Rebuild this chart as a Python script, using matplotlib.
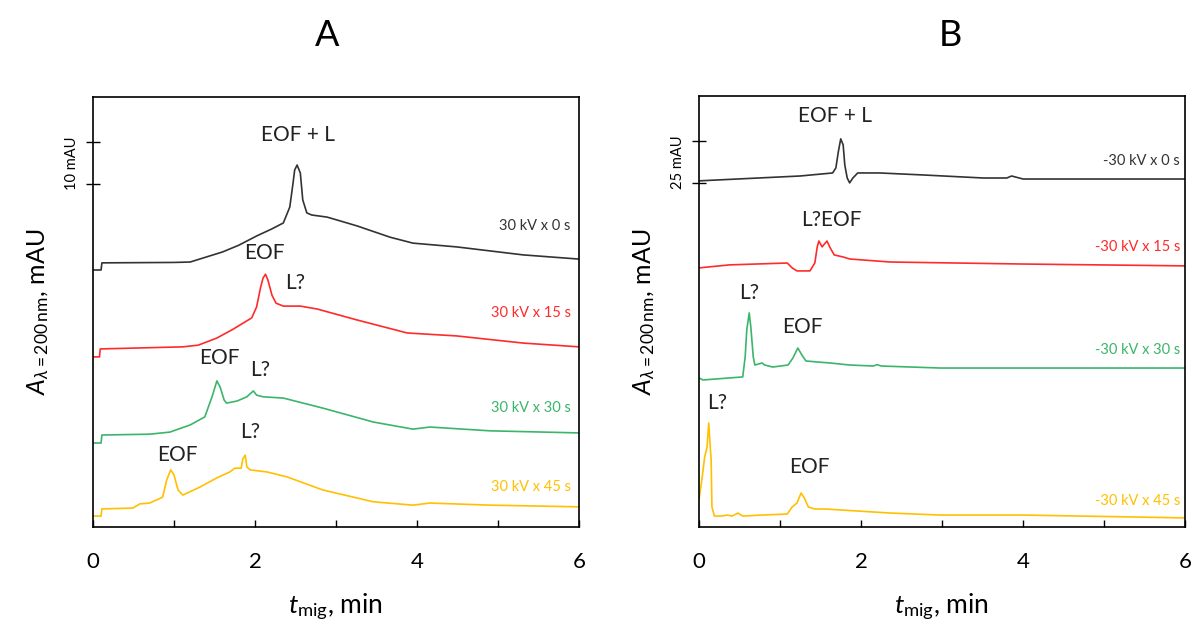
import matplotlib
matplotlib.use('Agg')
import matplotlib.pyplot as plt
import matplotlib.transforms as mtransforms

plt.rcParams['font.family'] = ['Lato', 'DejaVu Sans']
plt.rcParams['mathtext.fontset'] = 'custom'
plt.rcParams['mathtext.rm'] = 'Lato'
plt.rcParams['mathtext.it'] = 'Lato:italic'

# ---- Panel A: +30 kV, absorbance in mAU (traces stacked with offsets) ----
a0_t = [0, 0.10, 0.11, 1.0, 1.2, 1.4, 1.6, 1.8, 2.02, 2.21, 2.35, 2.43, 2.47, 2.49, 2.52,
        2.56, 2.59, 2.64, 2.70, 2.89, 3.05, 3.26, 3.67, 3.95, 4.49, 5.31, 6.0]
a0_y = [61.2, 61.2, 62.9, 63.0, 63.1, 64.3, 65.5, 67.1, 69.3, 71.0, 72.4, 76.2, 81.9, 85.0, 86.2,
        84.3, 77.9, 74.8, 74.3, 73.8, 72.9, 71.7, 69.0, 67.6, 66.7, 64.8, 63.8]

a15_t = [0, 0.08, 0.09, 1.11, 1.3, 1.53, 1.73, 1.96, 2.02, 2.07, 2.10, 2.13, 2.16, 2.21,
         2.26, 2.35, 2.56, 2.77, 3.26, 3.88, 4.49, 5.31, 6.0]
a15_y = [40.5, 40.5, 42.4, 42.9, 43.3, 45.0, 47.1, 49.8, 52.4, 57.1, 59.3, 60.2, 58.8, 55.2,
         53.3, 52.6, 52.6, 51.9, 49.3, 46.2, 45.5, 43.8, 42.9]

a30_t = [0, 0.10, 0.11, 0.70, 0.95, 1.20, 1.38, 1.47, 1.53, 1.57, 1.62, 1.65, 1.78, 1.90,
         1.98, 2.02, 2.10, 2.35, 2.84, 3.46, 3.95, 4.16, 4.90, 6.0]
a30_y = [20.0, 20.0, 21.9, 22.1, 22.6, 24.3, 26.2, 31.0, 34.8, 33.3, 30.2, 29.5, 30.0, 31.0,
         32.4, 31.4, 31.0, 30.7, 28.3, 25.0, 23.3, 23.8, 22.9, 22.4]

a45_t = [0, 0.10, 0.11, 0.49, 0.58, 0.70, 0.86, 0.91, 0.96, 1.00, 1.05, 1.11, 1.32, 1.53,
         1.69, 1.75, 1.83, 1.85, 1.88, 1.90, 1.94, 2.15, 2.40, 2.84, 3.46, 3.95, 4.16, 4.90, 6.0]
a45_y = [2.6, 2.6, 4.3, 4.5, 5.5, 5.7, 7.1, 11.2, 13.6, 12.4, 8.8, 7.6, 9.5, 11.7,
         13.1, 14.0, 14.0, 16.2, 17.1, 14.3, 13.6, 13.1, 11.9, 8.8, 6.0, 5.2, 5.7, 5.2, 4.8]

# ---- Panel B: -30 kV ----
b0_t = [0, 1.25, 1.65, 1.69, 1.72, 1.75, 1.78, 1.80, 1.83, 1.86, 1.90, 1.96, 2.23, 2.77,
        3.51, 3.80, 3.86, 4.0, 6.0]
b0_y = [206.0, 208.9, 210.7, 213.7, 223.2, 231.0, 227.4, 215.5, 207.7, 204.8, 207.7, 210.7,
        210.7, 209.5, 207.7, 207.7, 208.9, 207.1, 207.1]

b15_t = [0, 0.38, 1.09, 1.15, 1.21, 1.37, 1.43, 1.46, 1.48, 1.52, 1.54, 1.58, 1.62, 1.67,
         1.78, 1.86, 2.36, 4.0, 6.0]
b15_y = [154.2, 156.0, 157.1, 154.2, 152.4, 152.4, 157.1, 166.7, 170.2, 166.7, 167.9, 170.2,
         166.1, 161.9, 160.7, 159.5, 157.7, 156.5, 155.4]

b30_t = [0, 0.05, 0.54, 0.57, 0.59, 0.62, 0.64, 0.67, 0.69, 0.78, 0.81, 0.91, 1.10, 1.16,
         1.22, 1.27, 1.32, 1.46, 1.62, 1.86, 2.15, 2.20, 2.25, 2.98, 6.0]
b30_y = [88.7, 87.5, 89.3, 101.2, 117.3, 127.4, 119.0, 101.2, 96.4, 97.6, 96.4, 95.2, 96.4,
         100.6, 106.5, 102.4, 98.8, 98.2, 97.6, 96.4, 95.8, 96.6, 95.8, 94.6, 94.6]

b45_t = [0, 0.04, 0.07, 0.10, 0.12, 0.15, 0.16, 0.19, 0.28, 0.35, 0.41, 0.48, 0.54, 0.78,
         1.09, 1.15, 1.21, 1.26, 1.30, 1.35, 1.43, 1.56, 2.36, 2.98, 4.0, 6.0]
b45_y = [16.1, 29.8, 41.7, 47.6, 61.9, 39.9, 11.9, 6.5, 6.5, 7.1, 6.5, 8.3, 6.5, 7.1,
         7.7, 11.9, 14.3, 20.2, 17.3, 11.9, 10.7, 10.7, 8.3, 7.1, 7.1, 5.4]

colors = ['#333333', '#ff2a2a', '#3bb56a', '#ffc000']
labels_a = ['30 kV x 0 s', '30 kV x 15 s', '30 kV x 30 s', '30 kV x 45 s']
labels_b = ['-30 kV x 0 s', '-30 kV x 15 s', '-30 kV x 30 s', '-30 kV x 45 s']

fig = plt.figure(figsize=(11.92, 6.21), dpi=100)
ax_a = fig.add_axes([0.078, 0.1514, 0.4077, 0.6924])
ax_b = fig.add_axes([0.5864, 0.1514, 0.4077, 0.694])


def style_axes(ax, ymax, scale_ticks, scale_text):
    ax.set_xlim(0, 6)
    ax.set_ylim(0, ymax)
    ax.set_xticks([0, 2, 4, 6])
    ax.set_xticks([1, 3, 5], minor=True)
    ax.tick_params(axis='x', which='both', direction='in', length=5, width=1,
                   labelsize=16, pad=18)
    ax.set_yticks(scale_ticks)
    ax.set_yticklabels([])
    ax.tick_params(axis='y', direction='inout', length=10, width=1)
    for s in ax.spines.values():
        s.set_linewidth(1.2)
    ax.set_xlabel('$t_{\\mathrm{mig}}$, min', fontsize=19, labelpad=14)
    ax.set_ylabel('$A_{\\lambda\\mathrm{=200\\,nm}}$, mAU', fontsize=18, labelpad=22)
    trans = mtransforms.blended_transform_factory(ax.transAxes, ax.transData)
    ax.text(-0.044, sum(scale_ticks) / 2, scale_text, transform=trans, rotation=90,
            ha='center', va='center', fontsize=10.5)


# Panel A
for t, y, c in zip([a0_t, a15_t, a30_t, a45_t], [a0_y, a15_y, a30_y, a45_y], colors):
    ax_a.plot(t, y, color=c, lw=1.2)
style_axes(ax_a, 102.4, [81.7, 91.7], '10 mAU')
for lab, yy, c in zip(labels_a, [71.7, 51.0, 28.3, 9.5], colors):
    ax_a.text(5.90, yy, lab, color=c, ha='right', va='center', fontsize=10.5)
ann_a = [('EOF + L', 2.53, 93.3), ('EOF', 2.12, 65.2), ('L?', 2.49, 58.1),
         ('EOF', 1.56, 40.2), ('L?', 2.06, 37.4), ('EOF', 1.04, 17.1), ('L?', 1.94, 22.6)]
for txt, x, y in ann_a:
    ax_a.text(x, y, txt, ha='center', va='center', fontsize=15, color='#222222')

# Panel B
for t, y, c in zip([b0_t, b15_t, b30_t, b45_t], [b0_y, b15_y, b30_y, b45_y], colors):
    ax_b.plot(t, y, color=c, lw=1.2)
style_axes(ax_b, 256.5, [204.8, 229.8], '25 mAU')
for lab, yy, c in zip(labels_b, [217.9, 166.7, 105.4, 15.5], colors):
    ax_b.text(5.94, yy, lab, color=c, ha='right', va='center', fontsize=10.5)
ann_b = [('EOF + L', 1.68, 244.6), ('L?EOF', 1.63, 182.7), ('L?', 0.62, 139.3),
         ('EOF', 1.28, 119.0), ('L?', 0.22, 73.8), ('EOF', 1.36, 35.7)]
for txt, x, y in ann_b:
    ax_b.text(x, y, txt, ha='center', va='center', fontsize=15, color='#222222')

fig.text(327 / 1192, 1 - 36 / 621, 'A', ha='center', va='center', fontsize=26)
fig.text(950 / 1192, 1 - 36 / 621, 'B', ha='center', va='center', fontsize=26)

fig.savefig('out.png', dpi=100)
